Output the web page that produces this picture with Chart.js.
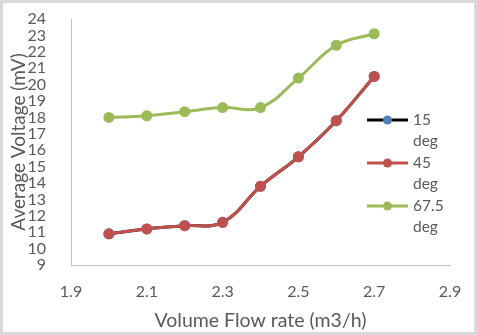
<!DOCTYPE html>
<html>
<head>
<meta charset="utf-8">
<script src="https://cdn.jsdelivr.net/npm/chart.js@4/dist/chart.umd.min.js"></script>
<style>
  html, body { margin: 0; padding: 0; background: #ffffff; }
  #wrap { width: 477px; height: 335px; position: relative; }
</style>
</head>
<body>
<div id="wrap"><canvas id="c" width="477" height="335"></canvas></div>
<script>
// ---- data ----
const flowRates = [2.0, 2.1, 2.2, 2.3, 2.4, 2.5, 2.6, 2.7];
const deg15 = [10.9, 11.2, 11.4, 11.6, 13.8, 15.6, 17.8, 20.5];
const deg45 = [10.9, 11.2, 11.4, 11.6, 13.8, 15.6, 17.8, 20.5];
const deg675 = [18.0, 18.1, 18.35, 18.6, 18.6, 20.4, 22.4, 23.1];
const seriesNames = [["15", "deg"], ["45", "deg"], ["67.5", "deg"]];
const xTicks = [1.9, 2.1, 2.3, 2.5, 2.7, 2.9];
const yTicks = [9, 10, 11, 12, 13, 14, 15, 16, 17, 18, 19, 20, 21, 22, 23, 24];

const FONT = "Lato, 'Open Sans', 'Liberation Sans', sans-serif";
const TEXT = "#595959";
const AXIS = "#bfbfbf";

const toPts = (ys) => flowRates.map((x, i) => ({ x: x, y: ys[i] }));

const frame = {
  id: "frame",
  beforeDraw(chart) {
    const c = chart.ctx;
    c.save();
    c.fillStyle = "#ffffff";
    c.fillRect(0, 0, chart.width, chart.height);
    c.restore();
  },
  afterDraw(chart) {
    const c = chart.ctx;
    c.save();
    c.strokeStyle = "#d9d9d9";
    c.lineWidth = 3;
    c.strokeRect(1.5, 1.5, chart.width - 3, chart.height - 3);
    c.restore();
  }
};

const legendPlugin = {
  id: "customLegend",
  afterDatasetsDraw(chart) {
    const c = chart.ctx;
    const rows = [120, 163, 206];
    c.save();
    chart.data.datasets.forEach((ds, i) => {
      const y = rows[i];
      c.strokeStyle = ds.borderColor;
      c.lineWidth = 3;
      c.beginPath();
      c.moveTo(367, y);
      c.lineTo(408, y);
      c.stroke();
      c.fillStyle = ds.pointBackgroundColor;
      c.beginPath();
      c.arc(387.5, y, 4.5, 0, Math.PI * 2);
      c.fill();
      c.fillStyle = TEXT;
      c.font = "15.5px " + FONT;
      c.textBaseline = "middle";
      c.textAlign = "left";
      seriesNames[i].forEach((t, j) => c.fillText(t, 413, y + j * 20.5));
    });
    c.restore();
  }
};

const chart = new Chart(document.getElementById("c"), {
  type: "line",
  data: {
    datasets: [
      { label: "15 deg", data: toPts(deg15), borderColor: "#000000", backgroundColor: "#4f81bd",
        pointBackgroundColor: "#4f81bd", pointBorderColor: "#4f81bd", order: 1 },
      { label: "45 deg", data: toPts(deg45), borderColor: "#c0504d", backgroundColor: "#c0504d",
        pointBackgroundColor: "#c0504d", pointBorderColor: "#c0504d", order: 0 },
      { label: "67.5 deg", data: toPts(deg675), borderColor: "#9bbb59", backgroundColor: "#9bbb59",
        pointBackgroundColor: "#9bbb59", pointBorderColor: "#9bbb59", order: 0 }
    ]
  },
  options: {
    responsive: false,
    animation: false,
    devicePixelRatio: 1,
    layout: { padding: { left: 0, right: 27, top: 4, bottom: 0 } },
    elements: {
      line: { borderWidth: 3, tension: 0.4, fill: false },
      point: { radius: 5.5, borderWidth: 0, hoverRadius: 5.5 }
    },
    plugins: { legend: { display: false }, tooltip: { enabled: false } },
    scales: {
      x: {
        type: "linear",
        min: 1.9, max: 2.9,
        grid: { display: false },
        border: { display: true, color: AXIS, width: 1 },
        afterBuildTicks: (s) => { s.ticks = xTicks.map(v => ({ value: v })); },
        afterFit: (s) => { s.height = 70; },
        ticks: { color: TEXT, font: { family: FONT, size: 16 }, padding: 9, maxRotation: 0,
          autoSkip: false, callback: (v) => v.toFixed(1) },
        title: { display: true, text: "Volume Flow rate (m3/h)", color: TEXT,
          font: { family: FONT, size: 19.5 }, padding: { top: 0, bottom: 3 } }
      },
      y: {
        min: 9, max: 24,
        grid: { display: false },
        border: { display: true, color: AXIS, width: 1 },
        afterBuildTicks: (s) => { s.ticks = yTicks.map(v => ({ value: v })); },
        afterFit: (s) => { s.width = 71; },
        ticks: { color: TEXT, font: { family: FONT, size: 16, lineHeight: 0.25 }, padding: 17, autoSkip: false },
        title: { display: true, text: "Average Voltage (mV)", color: TEXT,
          font: { family: FONT, size: 19 }, padding: { top: 7, bottom: 0 } }
      }
    }
  },
  plugins: [frame, legendPlugin]
});
</script>
</body>
</html>
